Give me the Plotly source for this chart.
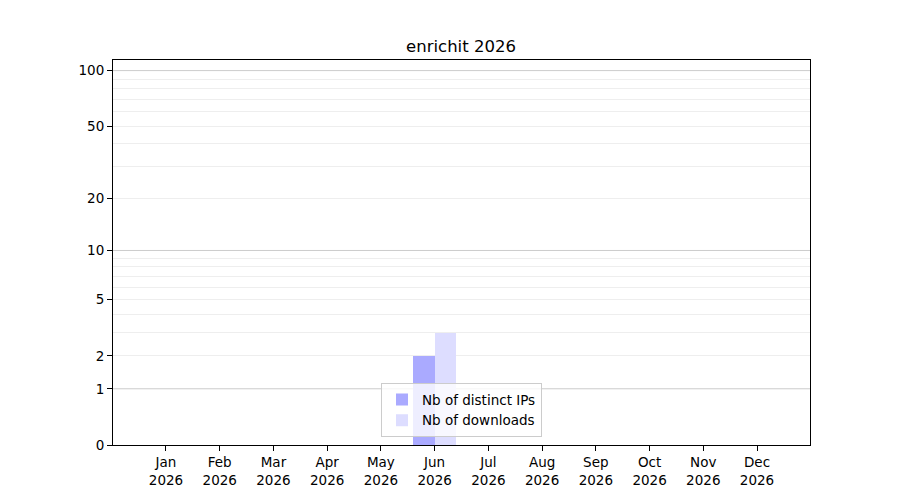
import numpy as np
import plotly.graph_objects as go

# ── Data ─────────────────────────────────────────────────────────────────────
months = ['Jan', 'Feb', 'Mar', 'Apr', 'May', 'Jun',
          'Jul', 'Aug', 'Sep', 'Oct', 'Nov', 'Dec']
year = 2026
distinct_ips = [0, 0, 0, 0, 0, 2, 0, 0, 0, 0, 0, 0]
downloads    = [0, 0, 0, 0, 0, 3, 0, 0, 0, 0, 0, 0]

y_ticks     = [0, 1, 2, 5, 10, 20, 50, 100]
major_grid  = [1, 10, 100]
minor_grid  = [2, 3, 4, 5, 6, 7, 8, 9, 20, 30, 40, 50, 60, 70, 80, 90]


def tr(v):
    # symlog-like scale: log10(1 + y)
    return np.log10(1 + np.asarray(v, dtype=float))


x = list(range(len(months)))
FONT = 'DejaVu Sans'

fig = go.Figure()
fig.add_trace(go.Bar(
    x=x, y=tr(distinct_ips), name='Nb of distinct IPs',
    width=0.4, offset=-0.4, marker=dict(color='#aaaaff', line_width=0),
    customdata=distinct_ips, hovertemplate='%{customdata}<extra></extra>'))
fig.add_trace(go.Bar(
    x=x, y=tr(downloads), name='Nb of downloads',
    width=0.4, offset=0, marker=dict(color='#ddddff', line_width=0),
    customdata=downloads, hovertemplate='%{customdata}<extra></extra>'))

# darker grid lines at decades
for v in major_grid:
    fig.add_shape(type='line', xref='paper', x0=0, x1=1, yref='y',
                  y0=float(tr(v)), y1=float(tr(v)), layer='below',
                  line=dict(color='#cccccc', width=1))

# page body adds ~8px offset, margins compensate for it
fig.update_layout(
    width=900, height=500,
    plot_bgcolor='white', paper_bgcolor='white',
    font=dict(family=FONT, size=13.5, color='black'),
    margin=dict(l=105, r=98, t=52, b=63),
    title=dict(text=f'enrichit {year}', x=(461 - 8) / 900, xanchor='center',
               y=1 - 38 / 500, yanchor='middle',
               font=dict(family=FONT, size=16.5, color='black')),
    showlegend=True,
    legend=dict(x=0.5, xanchor='center', y=0.02, yanchor='bottom',
                bgcolor='rgba(255,255,255,0.8)', bordercolor='#cccccc',
                borderwidth=1, font=dict(size=13.5)),
    bargap=0,
)

fig.update_xaxes(
    range=[-0.986, 11.986],
    tickmode='array', tickvals=x,
    ticktext=[f'{m}<br>{year}' for m in months],
    showgrid=False, zeroline=False,
    showline=True, linecolor='black', linewidth=1, mirror=True,
    ticks='outside', ticklen=5, tickcolor='black',
)
fig.update_yaxes(
    range=[0, 2.061],
    tickmode='array', tickvals=tr(y_ticks), ticktext=[str(v) for v in y_ticks],
    showgrid=False, zeroline=False,
    showline=True, linecolor='black', linewidth=1, mirror=True,
    ticks='outside', ticklen=5, tickcolor='black',
    minor=dict(tickmode='array', tickvals=tr(minor_grid), showgrid=True,
               gridcolor='#eeeeee', gridwidth=1, ticks=''),
)

fig.write_html('out.html')
